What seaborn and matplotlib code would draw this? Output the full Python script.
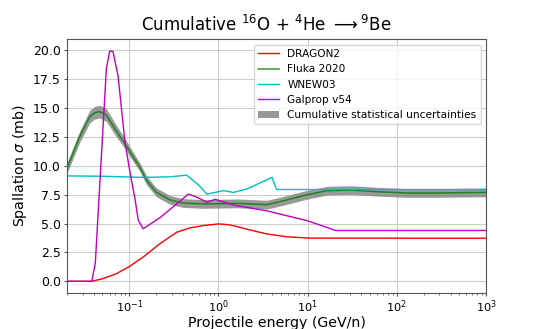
import numpy as np
import pandas as pd
import matplotlib
matplotlib.use("Agg")
import matplotlib.pyplot as plt
import seaborn as sns

# values (energy in GeV/n, sigma in mb)
dragon_e = [0.02, 0.038, 0.0507, 0.0718, 0.101, 0.143, 0.22, 0.34, 0.48, 0.68,
            1.0, 1.3, 1.6, 2.0, 2.7, 3.5, 5.9, 10.7, 1000]
dragon_s = [0, 0, 0.23, 0.66, 1.3, 2.1, 3.25, 4.25, 4.63, 4.83,
            4.97, 4.9, 4.75, 4.55, 4.3, 4.1, 3.85, 3.74, 3.73]

fluka_e = [0.02, 0.0277, 0.0359, 0.0409, 0.0465, 0.0553, 0.0718, 0.089, 0.11,
           0.131, 0.156, 0.202, 0.286, 0.40, 0.68, 1.61, 3.5, 5.4, 9.9, 16.6,
           30.4, 60.5, 131, 260, 1000]
fluka_s = [9.8, 12.5, 14.25, 14.6, 14.7, 14.4, 13.0, 11.95, 10.8,
           9.9, 8.75, 7.7, 7.05, 6.78, 6.7, 6.75, 6.64, 6.98, 7.5, 7.85,
           7.9, 7.76, 7.65, 7.65, 7.7]
fluka_err = [0.45, 0.5, 0.55, 0.55, 0.55, 0.55, 0.5, 0.45, 0.4,
             0.38, 0.38, 0.38, 0.38, 0.38, 0.38, 0.38, 0.38, 0.38, 0.38, 0.38,
             0.38, 0.38, 0.38, 0.38, 0.38]

wnew_e = [0.02, 0.05, 0.143, 0.286, 0.44, 0.61, 0.74, 1.14, 1.48, 2.09, 3.99,
          4.47, 1000]
wnew_s = [9.13, 9.1, 9.0, 9.05, 9.2, 8.28, 7.55, 7.85, 7.7, 8.0, 9.0,
          7.95, 7.95]

galprop_e = [0.02, 0.038, 0.0416, 0.0553, 0.0603, 0.0657, 0.0748, 0.089, 0.097,
             0.106, 0.115, 0.126, 0.143, 0.22, 0.34, 0.46, 0.57, 0.74, 0.92,
             1.48, 3.5, 9.9, 20.6, 1000]
galprop_s = [0, 0, 1.6, 18.4, 19.95, 19.9, 17.8, 12.2, 10.4,
             8.7, 7.3, 5.3, 4.55, 5.5, 6.7, 7.55, 7.3, 6.85, 7.1,
             6.6, 6.1, 5.25, 4.4, 4.4]

fig, ax = plt.subplots(figsize=(5.4, 3.29), dpi=100)
fig.subplots_adjust(left=0.124, right=0.9, bottom=0.11, top=0.88)

lo = np.array(fluka_s) - np.array(fluka_err)
hi = np.array(fluka_s) + np.array(fluka_err)
band = ax.fill_between(fluka_e, lo, hi, color="grey", alpha=0.8, lw=0,
                       label="Cumulative statistical uncertainties", zorder=1)

sns.lineplot(x=dragon_e, y=dragon_s, ax=ax, color="r", lw=1, label="DRAGON2",
             estimator=None, sort=False)
sns.lineplot(x=fluka_e, y=fluka_s, ax=ax, color="g", lw=1.1, alpha=0.8,
             label="Fluka 2020", estimator=None, sort=False)
sns.lineplot(x=wnew_e, y=wnew_s, ax=ax, color="c", lw=1, label="WNEW03",
             estimator=None, sort=False)
sns.lineplot(x=galprop_e, y=galprop_s, ax=ax, color="m", lw=1,
             label="Galprop v54", estimator=None, sort=False)

ax.set_xscale("log")
ax.set_xlim(0.02, 1000)
ax.grid(True, which="major", color="#cccccc", lw=0.8)
ax.set_axisbelow(True)
for sp in ax.spines.values():
    sp.set_color("#555555")
ax.tick_params(axis="x", which="major", labelsize=8.2, length=2.5, pad=1.5,
               colors="#555555", labelcolor="black")
ax.tick_params(axis="x", which="minor", length=1.5, colors="#555555")
ax.tick_params(axis="y", labelsize=9, length=2.5, pad=2,
               colors="#555555", labelcolor="black")
ax.set_yticks([0, 2.5, 5, 7.5, 10, 12.5, 15, 17.5, 20])
ax.set_xlabel("Projectile energy (GeV/n)", fontsize=10.2, labelpad=1)
ax.set_ylabel(r"Spallation $\sigma$ (mb)", fontsize=10.2, labelpad=2.5)
fig.suptitle(r"Cumulative $^{16}$O + $^{4}$He $\longrightarrow ^{9}$Be",
             fontsize=12, x=0.493, y=0.955)

handles, labels = ax.get_legend_handles_labels()
order = [labels.index(l) for l in ["DRAGON2", "Fluka 2020", "WNEW03", "Galprop v54",
                                   "Cumulative statistical uncertainties"]]
ax.legend([handles[i] for i in order], [labels[i] for i in order],
          loc="upper right", fontsize=7.6, framealpha=0.8)

fig.savefig("out.png", dpi=100)
